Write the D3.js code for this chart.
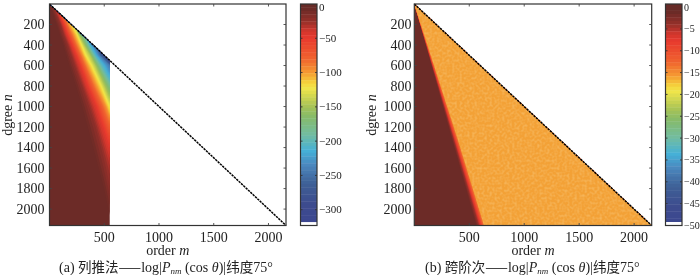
<!DOCTYPE html>
<html>
<head>
<meta charset="utf-8">
<script src="https://cdn.jsdelivr.net/npm/d3@7"></script>
<style>
  html, body { margin: 0; padding: 0; background: #fff; }
  svg { display: block; filter: blur(0.35px); }
  text { font-family: "Liberation Serif", serif; fill: #222; }
</style>
</head>
<body>
<svg id="canvas" width="700" height="275"></svg>
<script>
let degreeMax = 2160

let xTicks = [500, 1000, 1500, 2000]
let yTicks = [200, 400, 600, 800, 1000, 1200, 1400, 1600, 1800, 2000]

let colorbarTicksA = [0, -50, -100, -150, -200, -250, -300]
let colorbarTicksB = [0, -5, -10, -15, -20, -25, -30, -35, -40, -45, -50]

// colormap, position on the scale 0..1 and colour
let cmapStops = [0, 0.025, 0.08, 0.12, 0.155, 0.25, 0.31, 0.355, 0.38, 0.465, 0.51, 0.59, 0.665, 0.73, 0.81, 0.9, 0.985]
let cmapColors = ['#642b27', '#6c2b27', '#96302a', '#d0362d', '#e83a2e', '#f0652f', '#f59a32', '#f5d23c', '#f2e64a',
                  '#a5c257', '#86bb6a', '#72bca0', '#45b0d8', '#4a86bd', '#3e6096', '#3d4c8e', '#3c4690']

// panel (a): contours of the field, each one a list of [degree n, order m]
let levelsA = [-8, -25, -50, -100, -120, -150, -200, -250, -300]
let contoursA = [
  [[0, 0], [100, 28], [200, 58], [300, 90], [400, 120], [600, 175], [800, 235], [1000, 290], [1200, 340], [1400, 390], [1600, 440], [1800, 490], [2000, 530], [2160, 570]],
  [[43, 43], [100, 62], [200, 100], [300, 128], [400, 165], [600, 228], [800, 295], [1000, 360], [1200, 420], [1400, 470], [1600, 515], [1800, 555]],
  [[85, 85], [100, 92], [200, 130], [300, 165], [400, 205], [600, 282], [800, 350], [1000, 428], [1200, 490], [1400, 550], [1600, 620]],
  [[170, 170], [200, 175], [300, 222], [400, 262], [600, 345], [800, 428], [1000, 515], [1100, 550], [1200, 590]],
  [[204, 204], [300, 250], [400, 288], [500, 325], [600, 378], [800, 465], [1000, 540], [1035, 550]],
  [[255, 255], [300, 270], [400, 318], [500, 372], [600, 420], [800, 505], [917, 550], [1000, 590]],
  [[340, 340], [400, 360], [500, 412], [600, 470], [760, 550], [800, 570]],
  [[425, 425], [500, 460], [595, 550], [700, 600]],
  [[510, 510], [555, 550], [600, 575]]
]

// panel (b)
let levelsB = [-1.2, -5, -10, -14.5]
let contoursB = [
  [[0, 0], [1327, 342], [2160, 560]],
  [[0, 0], [1327, 362], [2160, 590]],
  [[0, 0], [1327, 380], [2160, 615]],
  [[0, 0], [1327, 398], [2160, 635]]
]

let svg = d3.select('#canvas')

let cmapPos = d3.scaleLinear().domain(cmapStops).range(cmapColors).interpolate(d3.interpolateRgb).clamp(true)

let defs = svg.append('defs')

// speckle of the orange area in panel (b)
let speckle = defs.append('filter').attr('id', 'speckle').attr('x', 0).attr('y', 0).attr('width', 1).attr('height', 1)
speckle.append('feTurbulence').attr('type', 'fractalNoise').attr('baseFrequency', 0.4).attr('numOctaves', 1).attr('seed', 4)
speckle.append('feColorMatrix').attr('type', 'matrix')
       .attr('values', '0 0 0 0 0.97  0 0 0 0 0.72  0 0 0 0 0.35  0.8 0 0 0 -0.32')

let drawPanel = (p) => {
  let x = d3.scaleLinear().domain([0, degreeMax]).range([p.left, p.right])
  let y = d3.scaleLinear().domain([0, degreeMax]).range([p.top, p.bottom])

  let region = [[0, 0], [p.orderMax, p.orderMax], [p.orderMax, degreeMax], [0, degreeMax]]
  defs.append('clipPath').attr('id', p.id + '-clip')
      .append('polygon')
      .attr('points', region.map((d) => x(d[0]) + ',' + y(d[1])).join(' '))

  let field = svg.append('g').attr('clip-path', 'url(#' + p.id + '-clip)')

  let contourScales = p.contours.map((c) => {
    let s = d3.scaleLinear().domain(c.map((d) => d[0])).range(c.map((d) => d[1]))
    return (n) => n < c[0][0] ? n : s(n)
  })

  let orderAt = (level, n) => {
    let ms = contourScales.map((f) => f(n))
    return d3.scaleLinear().domain(p.levels).range(ms)(level)
  }

  // base colour, then the colour steps painted on top from shallow to deep
  field.append('rect')
       .attr('x', p.left).attr('y', p.top)
       .attr('width', p.right - p.left).attr('height', p.bottom - p.top)
       .attr('fill', cmapPos(-p.levels[0] / p.scaleMax))

  let rows = d3.range(0, degreeMax + 1, 10)
  let steps = d3.range(1, 65).map((k) => -k * p.scaleMax / 64).filter((l) => l < p.levels[0] && l >= d3.min(p.levels) - p.scaleMax / 16)
  if(p.id === 'b') steps = steps.filter((l) => l >= d3.min(p.levels))

  steps.forEach((level) => {
    let band = d3.area()
                 .y((n) => y(n))
                 .x0((n) => x(orderAt(level, n)))
                 .x1(() => p.right)
    field.append('path')
         .attr('d', band(rows))
         .attr('fill', cmapPos(-level / p.scaleMax))
  })

  if(p.id === 'b') {
    let last = d3.area()
                 .y((n) => y(n))
                 .x0((n) => x(contourScales[contourScales.length - 1](n)))
                 .x1(() => p.right)
    field.append('path').attr('d', last(rows)).attr('fill', '#f3a136')
    let speck = field.append('g').attr('clip-path', 'url(#' + p.id + '-orange)')
    defs.append('clipPath').attr('id', p.id + '-orange').append('path').attr('d', last(rows))
    speck.append('rect')
         .attr('x', p.left).attr('y', p.top)
         .attr('width', p.right - p.left).attr('height', p.bottom - p.top)
         .attr('filter', 'url(#speckle)')
  }

  // dashed diagonal m = n
  svg.append('line')
     .attr('x1', x(0)).attr('y1', y(0))
     .attr('x2', x(degreeMax)).attr('y2', y(degreeMax))
     .attr('stroke', '#000').attr('stroke-width', 1.5).attr('stroke-dasharray', '2.4,0.8')

  // frame and ticks
  svg.append('rect')
     .attr('x', p.left).attr('y', p.top)
     .attr('width', p.right - p.left).attr('height', p.bottom - p.top)
     .attr('fill', 'none').attr('stroke', '#333').attr('stroke-width', 1.2)

  let tickLen = 2.5
  let axes = svg.append('g').attr('stroke', '#444').attr('stroke-width', 0.9)
  xTicks.forEach((t) => {
    axes.append('line').attr('x1', x(t)).attr('x2', x(t)).attr('y1', p.top).attr('y2', p.top + tickLen)
    axes.append('line').attr('x1', x(t)).attr('x2', x(t)).attr('y1', p.bottom).attr('y2', p.bottom - tickLen)
  })
  yTicks.forEach((t) => {
    axes.append('line').attr('y1', y(t)).attr('y2', y(t)).attr('x1', p.left).attr('x2', p.left + tickLen)
    axes.append('line').attr('y1', y(t)).attr('y2', y(t)).attr('x1', p.right).attr('x2', p.right - tickLen)
  })

  svg.append('g').selectAll('text').data(xTicks).enter().append('text')
     .attr('x', (t) => x(t)).attr('y', 241.5)
     .attr('text-anchor', 'middle').attr('font-size', 14)
     .text((t) => t)

  svg.append('g').selectAll('text').data(yTicks).enter().append('text')
     .attr('x', p.yLabelX).attr('y', (t) => y(t) + 4.5)
     .attr('text-anchor', 'end').attr('font-size', 14)
     .text((t) => t)

  // axis titles
  let xTitle = svg.append('text')
                  .attr('x', (p.left + p.right) / 2).attr('y', 255)
                  .attr('text-anchor', 'middle').attr('font-size', 14)
  xTitle.append('tspan').text('order ')
  xTitle.append('tspan').attr('font-style', 'italic').text('m')

  let yTitle = svg.append('text')
                  .attr('transform', 'translate(' + p.yTitleX + ',115) rotate(-90)')
                  .attr('text-anchor', 'middle').attr('font-size', 14)
  yTitle.append('tspan').text('dgree ')
  yTitle.append('tspan').attr('font-style', 'italic').text('n')

  // caption
  let cap = svg.append('text').attr('x', p.captionX).attr('y', 271.5).attr('font-size', 14)
  cap.append('tspan').text(p.caption + ' ')
  cap.append('tspan').attr('font-family', '"Noto Sans CJK SC"').attr('font-size', 13.5).text(p.captionCn)
  cap.append('tspan').text('log|')
  cap.append('tspan').attr('font-style', 'italic').text('P')
  cap.append('tspan').attr('font-style', 'italic').attr('font-size', 9).attr('dy', 2).text('nm')
  cap.append('tspan').attr('dy', -2).text(' (cos ')
  cap.append('tspan').attr('font-style', 'italic').text('θ')
  cap.append('tspan').text(')|')
  cap.append('tspan').attr('font-family', '"Noto Sans CJK SC"').attr('font-size', 13.5).text('纬度')
  cap.append('tspan').text('75°')

  // colour bar
  let cy = d3.scaleLinear().domain(p.cbarDomain).range([p.top, p.bottom])
  let cbarMin = p.cbarDomain[1]
  let stepSize = p.scaleMax / 64
  let cbarSteps = d3.range(0, 64).filter((k) => -(k + 1) * stepSize >= cbarMin)
  svg.append('g').selectAll('rect').data(cbarSteps).enter().append('rect')
     .attr('x', p.cbarLeft).attr('width', p.cbarRight - p.cbarLeft)
     .attr('y', (k) => k === 0 ? p.top : cy(-k * stepSize))
     .attr('height', (k) => cy(-(k + 1) * stepSize) - (k === 0 ? p.top : cy(-k * stepSize)) + 0.4)
     .attr('fill', (k) => cmapPos((k + 0.5) / 64))
  svg.append('rect')
     .attr('x', p.cbarLeft).attr('width', p.cbarRight - p.cbarLeft)
     .attr('y', cy(p.whiteFrom)).attr('height', cy(cbarMin) - cy(p.whiteFrom))
     .attr('fill', '#fff')
  svg.append('rect')
     .attr('x', p.cbarLeft).attr('y', p.top)
     .attr('width', p.cbarRight - p.cbarLeft).attr('height', p.bottom - p.top)
     .attr('fill', 'none').attr('stroke', '#333').attr('stroke-width', 1.2)

  let cAxes = svg.append('g').attr('stroke', '#333').attr('stroke-width', 0.9)
  p.cbarTicks.forEach((t) => {
    if(t === 0 || t === cbarMin) return
    cAxes.append('line').attr('x1', p.cbarLeft).attr('x2', p.cbarLeft + 2).attr('y1', cy(t)).attr('y2', cy(t))
    cAxes.append('line').attr('x1', p.cbarRight).attr('x2', p.cbarRight - 2).attr('y1', cy(t)).attr('y2', cy(t))
  })
  // 0 is held down a little so that it stays inside the page
  svg.append('g').selectAll('text').data(p.cbarTicks).enter().append('text')
     .attr('x', p.cbarRight + 2).attr('y', (t) => Math.max(cy(t) + 3.5, 10.5))
     .attr('font-size', p.cbarFont)
     .text((t) => t < 0 ? '−' + (-t) : t)
}

drawPanel({
  id: 'a', left: 49.5, right: 286, top: 4, bottom: 225.5,
  orderMax: 550, levels: levelsA, contours: contoursA, scaleMax: 323,
  yLabelX: 44.5, yTitleX: 12,
  captionX: 59, caption: '(a)', captionCn: '列推法——',
  cbarLeft: 300.5, cbarRight: 317, cbarDomain: [0, -323], whiteFrom: -318, cbarTicks: colorbarTicksA, cbarFont: 11
})

drawPanel({
  id: 'b', left: 414.3, right: 651.7, top: 4, bottom: 225.5,
  orderMax: degreeMax, levels: levelsB, contours: contoursB, scaleMax: 50.7,
  yLabelX: 411.5, yTitleX: 376,
  captionX: 425, caption: '(b)', captionCn: '跨阶次——',
  cbarLeft: 665.5, cbarRight: 682, cbarDomain: [0.7, -50], whiteFrom: -49.2, cbarTicks: colorbarTicksB, cbarFont: 10
})
</script>
</body>
</html>
